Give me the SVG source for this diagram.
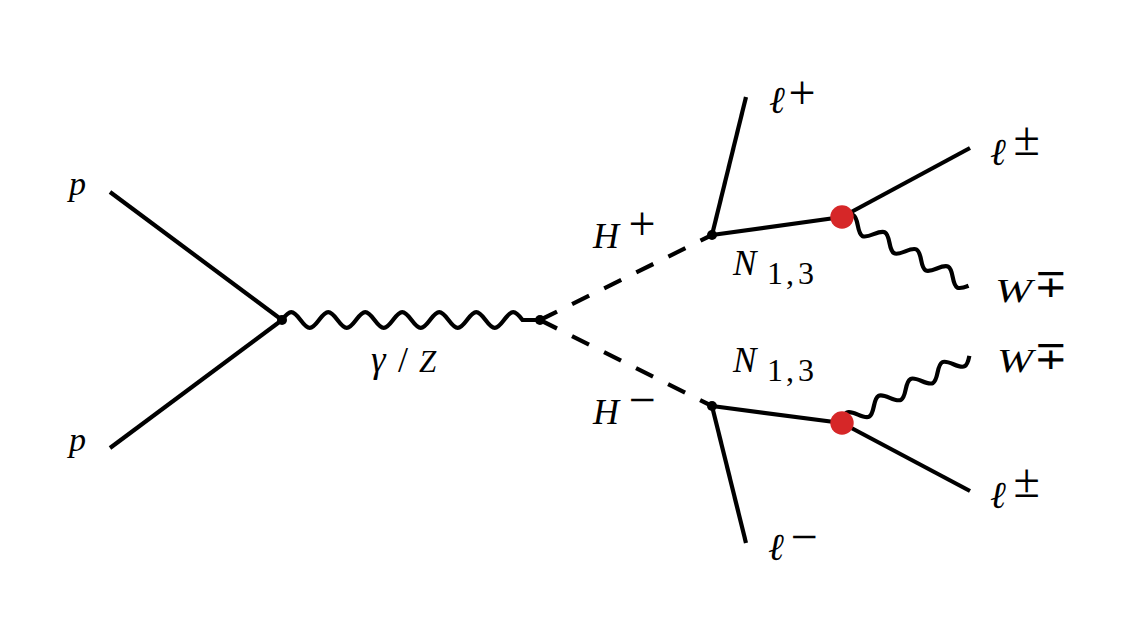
<svg xmlns="http://www.w3.org/2000/svg" width="1123" height="628" viewBox="0 0 1123 628">
<style>
.ln{stroke:#000;stroke-width:4.2;fill:none}
.dash{stroke-dasharray:19 16.8}
.v{fill:#000}
.red{fill:#d62728}
.t{font-style:italic;fill:#000}
.up{font-style:normal;fill:#000}
.mp{font-family:"DejaVu Sans",sans-serif;font-weight:200;font-style:normal;fill:#000}
</style>
<defs>
<path id="wave" d="M0,0 c7.64,-9.33 10.36,-9.33 18,0 s10.36,9.33 18,0 s10.36,-9.33 18,0 s10.36,9.33 18,0 s10.36,-9.33 18,0 s10.36,9.33 18,0 s10.36,-9.33 18,0 s10.36,9.33 18,0"/>
</defs>
<rect width="1123" height="628" fill="#fff"/>
<g id="connectors">
<path class="ln" d="M110,192 L282,320"/>
<path class="ln" d="M110,448 L282,320"/>
<path class="ln" d="M282,320 c7.85,-10.5 10.65,-10.5 18.5,0 s10.65,10.5 18.5,0 s10.65,-10.5 18.5,0 s10.65,10.5 18.5,0 s10.65,-10.5 18.5,0 s10.65,10.5 18.5,0 s10.65,-10.5 18.5,0 s10.65,10.5 18.5,0 s10.65,-10.5 18.5,0 s10.65,10.5 18.5,0 s10.65,-10.5 18.5,0 s10.65,10.5 18.5,0 s10.65,-10.5 18.5,0 L540,320"/>
<path class="ln dash" d="M540,320 L712,235"/>
<path class="ln dash" d="M540,320 L712,406"/>
<path class="ln" d="M712,235 L746,97"/>
<path class="ln" d="M712,235 L842,217"/>
<path class="ln" d="M842,217 L970,148"/>
<use href="#wave" class="ln" transform="translate(842,217) rotate(28.5)"/>
<path class="ln" d="M712,406 L746,543"/>
<path class="ln" d="M712,406 L842,423"/>
<path class="ln" d="M842,423 L970,491"/>
<use href="#wave" class="ln" transform="translate(842,423) rotate(-27.8)"/>
</g>
<g id="v-pp"><circle class="v" cx="282" cy="320" r="5"/></g>
<g id="v-gz"><circle class="v" cx="540" cy="320" r="5"/></g>
<g id="v-hplus"><circle class="v" cx="712" cy="235" r="5"/></g>
<g id="v-hminus"><circle class="v" cx="712" cy="406" r="5"/></g>
<g id="blob-top"><circle class="red" cx="842" cy="217" r="11.7"/></g>
<g id="blob-bottom"><circle class="red" cx="842" cy="423" r="11.7"/></g>
<g id="labels" font-family="Liberation Serif, Times New Roman, DejaVu Serif, serif">
<g id="label-p1"><text class="t" x="69" y="195" font-size="34">p</text></g>
<g id="label-p2"><text class="t" x="69" y="451" font-size="34">p</text></g>
<g id="label-gz"><text class="t" y="372" font-size="31"><tspan x="371" font-size="37">γ</tspan><tspan class="up" x="398" font-size="36">/</tspan><tspan x="419">Z</tspan></text></g>
<g id="label-hplus"><text class="t" x="593" y="248" font-size="36">H</text><text class="up" x="628.6" y="240" font-size="48">+</text></g>
<g id="label-hminus"><text class="t" x="593" y="424" font-size="36">H</text><text class="up" x="628.6" y="415.5" font-size="48">−</text></g>
<g id="label-n-top"><text class="t" x="733" y="275" font-size="35">N</text><text class="up" y="284" font-size="32"><tspan x="767">1</tspan><tspan x="786">,</tspan><tspan x="798">3</tspan></text></g>
<g id="label-n-bottom"><text class="t" x="733" y="372" font-size="35">N</text><text class="up" y="381" font-size="32"><tspan x="767">1</tspan><tspan x="786">,</tspan><tspan x="798">3</tspan></text></g>
<g id="label-lplus"><text class="t" x="769" y="113" font-size="38" font-family="DejaVu Serif, serif">ℓ</text><text class="up" x="788.6" y="108.5" font-size="48">+</text></g>
<g id="label-lminus"><text class="t" x="768" y="560" font-size="38" font-family="DejaVu Serif, serif">ℓ</text><text class="up" x="790.6" y="552.5" font-size="48">−</text></g>
<g id="label-lpm-top"><text class="t" x="990" y="165" font-size="38" font-family="DejaVu Serif, serif">ℓ</text><text class="up" x="1013.6" y="155" font-size="48">±</text></g>
<g id="label-w-top"><text class="t" x="995" y="302" font-size="34" textLength="37" lengthAdjust="spacingAndGlyphs">W</text><text class="mp" x="1034" y="297" font-size="40">∓</text></g>
<g id="label-w-bottom"><text class="t" x="997" y="372" font-size="34" textLength="36" lengthAdjust="spacingAndGlyphs">W</text><text class="mp" x="1034" y="369" font-size="40">∓</text></g>
<g id="label-lpm-bottom"><text class="t" x="990" y="508" font-size="38" font-family="DejaVu Serif, serif">ℓ</text><text class="up" x="1013.6" y="497" font-size="48">±</text></g>
</g>
</svg>
